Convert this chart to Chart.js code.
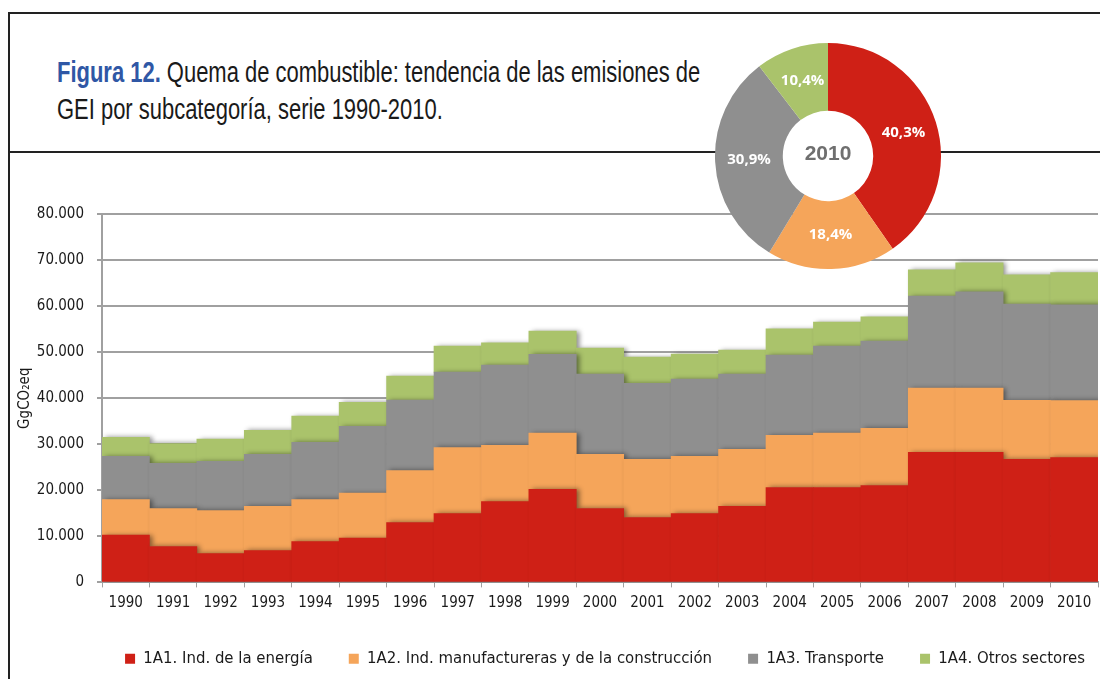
<!DOCTYPE html>
<html>
<head>
<meta charset="utf-8">
<script src="https://cdn.jsdelivr.net/npm/chart.js@4.4.1/dist/chart.umd.min.js"></script>
<style>
  html, body { margin: 0; padding: 0; background: #fff; }
  #wrap { position: relative; width: 1100px; height: 679px; overflow: hidden; }
  #barChart { position: absolute; left: 0; top: 0; }
  #pieChart { position: absolute; left: 712px; top: 40px; }
  .frame { position: absolute; background: #222; }
  #title {
    position: absolute; left: 57px; top: 54px;
    font-family: "Liberation Sans", Arial, sans-serif;
    font-size: 30px; line-height: 36.7px; color: #1a1a1a;
    white-space: nowrap; transform-origin: 0 0;
  }
  #title b { color: #2f57a5; }
</style>
</head>
<body>
<div id="wrap">
  <div class="frame" style="left:8px; top:12px; width:1092px; height:2px;"></div>
  <div class="frame" style="left:8px; top:12px; width:2px; height:667px;"></div>
  <div class="frame" style="left:8px; top:151px; width:1092px; height:2px;"></div>
  <div id="title"><b>Figura 12.</b> Quema de combustible: tendencia de las emisiones de<br>GEI por subcategoría, serie 1990-2010.</div>
  <canvas id="barChart" width="1100" height="679"></canvas>
  <canvas id="pieChart" width="232" height="232"></canvas>
</div>
<script>
// datos (GgCO2eq)
const years = ['1990','1991','1992','1993','1994','1995','1996','1997','1998','1999','2000',
               '2001','2002','2003','2004','2005','2006','2007','2008','2009','2010'];
const energia      = [10300, 7800, 6250, 6900, 8850, 9600, 13000, 14950, 17550, 20200, 16050,
                      14100, 14950, 16500, 20600, 20600, 21050, 28250, 28250, 26700, 27100];
const manufactura  = [7700, 8250, 9350, 9600, 9150, 9800, 11300, 14350, 12200, 12200, 11750,
                      12600, 12400, 12400, 11350, 11800, 12400, 13950, 13950, 12850, 12400];
const transporte   = [9400, 9800, 10700, 11300, 12400, 14500, 15300, 16350, 17450, 17100, 17450,
                      16550, 16800, 16350, 17400, 18900, 18950, 20000, 20900, 20900, 20800];
const otros        = [4100, 4300, 4800, 5200, 5700, 5200, 5200, 5650, 4800, 5100, 5650,
                      5700, 5450, 5200, 5700, 5250, 5250, 5700, 6300, 6350, 7000];
const seriesNames  = ['1A1. Ind. de la energía', '1A2. Ind. manufactureras y de la construcción',
                      '1A3. Transporte', '1A4. Otros sectores'];
const pie2010      = [40.3, 18.4, 30.9, 10.4];
const yTicks       = [0, 10000, 20000, 30000, 40000, 50000, 60000, 70000, 80000];

const colores = ['#cf2016', '#f5a55a', '#8f8f8f', '#aac36b'];
const fuente = '"DejaVu Sans", sans-serif';
// letra condensada (font-stretch dentro del shorthand del canvas)
const letra = (size) => ({ family: fuente, size: size, weight: 'condensed' });

// el título es de letra condensada: se ajusta al ancho del original
const titulo = document.getElementById('title');
titulo.style.transform = 'scaleX(' + (643 / titulo.scrollWidth).toFixed(3) + ')';

// sombra suave a la derecha de cada barra
const sombraBarras = {
  id: 'sombraBarras',
  beforeDatasetsDraw(chart) {
    const ctx = chart.ctx;
    ctx.save();
    ctx.shadowColor = 'rgba(0,0,0,0.45)';
    ctx.shadowBlur = 5;
    ctx.shadowOffsetX = 3;
    ctx.shadowOffsetY = 0;
  },
  afterDatasetsDraw(chart) {
    chart.ctx.restore();
  }
};

// la leyenda del original está corrida a la derecha
const moverLeyenda = {
  id: 'moverLeyenda',
  afterLayout(chart) {
    if (chart.legend) {
      chart.legend.left += 56;
      chart.legend.right += 56;
    }
  }
};

new Chart(document.getElementById('barChart').getContext('2d'), {
  type: 'bar',
  data: {
    labels: years,
    datasets: [energia, manufactura, transporte, otros].map((d, i) => ({
      label: seriesNames[i],
      data: d,
      backgroundColor: colores[i],
      borderWidth: 0,
      barPercentage: 1,
      categoryPercentage: 1
    }))
  },
  options: {
    responsive: false,
    animation: false,
    layout: { padding: { left: 0, right: 2, top: 214, bottom: 2 } },
    scales: {
      x: {
        stacked: true,
        grid: { display: true, drawOnChartArea: false, color: '#a0a0a0', tickLength: 5, offset: true },
        border: { color: '#a0a0a0', width: 2 },
        ticks: { color: '#1a1a1a', font: letra(15), padding: 7 },
        afterFit: (s) => { s.height = 32; }
      },
      y: {
        stacked: true,
        min: 0,
        max: 80000,
        z: 1,
        afterBuildTicks: (s) => { s.ticks = yTicks.map(v => ({ value: v })); },
        afterFit: (s) => { s.width = 102; },
        grid: { color: '#a0a0a0', lineWidth: 2, tickLength: 5 },
        border: { color: '#a0a0a0', width: 2 },
        ticks: {
          color: '#1a1a1a',
          font: letra(15),
          padding: 13,
          callback: (v) => v.toLocaleString('de-DE')
        },
        title: {
          display: true,
          text: 'GgCO₂eq',
          color: '#1a1a1a',
          font: letra(15),
          padding: { top: 16, bottom: 0 }
        }
      }
    },
    plugins: {
      legend: {
        position: 'bottom',
        labels: {
          boxWidth: 10,
          boxHeight: 10,
          padding: 36,
          color: '#1a1a1a',
          font: letra(16.6)
        }
      },
      tooltip: { enabled: false }
    }
  },
  plugins: [sombraBarras, moverLeyenda]
});

// centro blanco y etiquetas del anillo 2010
const etiquetasAnillo = {
  id: 'etiquetasAnillo',
  beforeDatasetsDraw(chart) {
    const c = chart.getDatasetMeta(0).data[0];
    const ctx = chart.ctx;
    ctx.save();
    ctx.fillStyle = '#ffffff';
    ctx.beginPath();
    ctx.arc(c.x, c.y, c.innerRadius + 1, 0, Math.PI * 2);
    ctx.fill();
    ctx.restore();
  },
  afterDatasetsDraw(chart) {
    const ctx = chart.ctx;
    const meta = chart.getDatasetMeta(0);
    ctx.save();
    ctx.textAlign = 'center';
    ctx.textBaseline = 'middle';
    ctx.fillStyle = '#ffffff';
    ctx.font = 'bold 15px "Open Sans", sans-serif';
    meta.data.forEach((arc, i) => {
      const p = arc.tooltipPosition();
      const txt = chart.data.datasets[0].data[i].toFixed(1).replace('.', ',') + '%';
      ctx.fillText(txt, p.x, p.y);
    });
    const c = meta.data[0];
    ctx.fillStyle = '#6f6f6f';
    ctx.font = 'bold 21px "Liberation Sans", sans-serif';
    ctx.fillText('2010', c.x, c.y - 2);
    ctx.restore();
  }
};

new Chart(document.getElementById('pieChart').getContext('2d'), {
  type: 'doughnut',
  data: {
    labels: seriesNames,
    datasets: [{
      data: pie2010,
      backgroundColor: colores,
      borderWidth: 0
    }]
  },
  options: {
    responsive: false,
    animation: false,
    cutout: '40%',
    layout: { padding: 3 },
    plugins: {
      legend: { display: false },
      tooltip: { enabled: false }
    }
  },
  plugins: [etiquetasAnillo]
});
</script>
</body>
</html>
